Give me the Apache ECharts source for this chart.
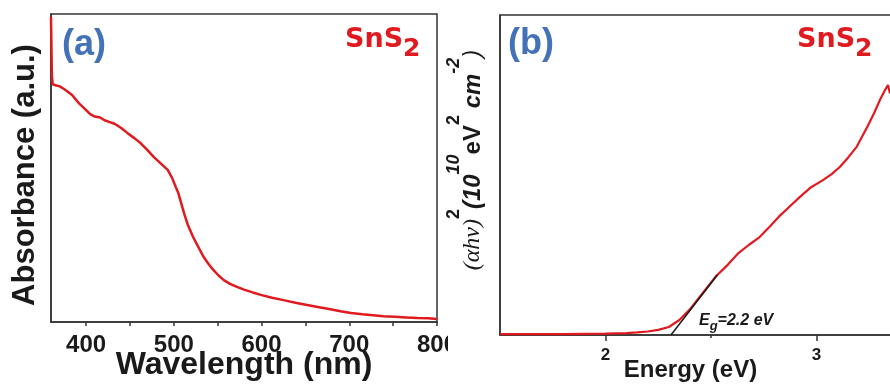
<!DOCTYPE html>
<html>
<head>
<meta charset="utf-8">
<script src="https://cdn.jsdelivr.net/npm/echarts@6/dist/echarts.min.js"></script>
<style>
  html, body { margin: 0; padding: 0; background: #fff; }
  #chart { width: 890px; height: 385px; }
</style>
</head>
<body>
<div id="chart"></div>
<script>
// (a) UV-vis absorbance spectrum of SnS2
const wavelengthNm = [360, 361, 362, 364, 366, 370, 374, 378, 384, 392, 400, 405, 410, 416, 421, 427, 433, 440, 447, 455, 462, 470, 477, 485, 493, 498, 502, 505, 508, 512, 516, 522, 528, 534, 540, 545, 551, 557, 564, 572, 580, 590, 599, 612, 625, 640, 652, 664, 677, 690, 702, 715, 727, 739, 752, 765, 778, 790, 800];
const absorbance = [0.99, 0.80, 0.772, 0.775, 0.768, 0.765, 0.758, 0.75, 0.737, 0.71, 0.688, 0.674, 0.667, 0.664, 0.655, 0.649, 0.643, 0.63, 0.614, 0.597, 0.581, 0.558, 0.536, 0.515, 0.494, 0.468, 0.44, 0.42, 0.39, 0.35, 0.315, 0.276, 0.243, 0.211, 0.187, 0.169, 0.151, 0.136, 0.124, 0.114, 0.105, 0.096, 0.088, 0.079, 0.071, 0.062, 0.055, 0.049, 0.042, 0.035, 0.029, 0.025, 0.022, 0.019, 0.017, 0.015, 0.013, 0.012, 0.01];

// (b) Tauc plot: (αhν)^2 in 10^10 eV^2 cm^-2 versus photon energy
const energyEv = [1.5, 1.6, 1.7, 1.8, 1.9, 2.0, 2.05, 2.1, 2.15, 2.2, 2.25, 2.3, 2.35, 2.4, 2.46, 2.52, 2.58, 2.63, 2.68, 2.73, 2.78, 2.82, 2.87, 2.92, 2.97, 3.03, 3.07, 3.11, 3.15, 3.19, 3.24, 3.27, 3.30, 3.32, 3.338, 3.348];
const taucValue = [0.03, 0.03, 0.03, 0.03, 0.035, 0.04, 0.05, 0.06, 0.08, 0.11, 0.16, 0.25, 0.47, 0.8, 1.31, 1.81, 2.2, 2.56, 2.82, 3.06, 3.4, 3.69, 4.0, 4.31, 4.6, 4.84, 5.02, 5.25, 5.55, 5.88, 6.5, 6.9, 7.34, 7.6, 7.81, 7.55];

// Linear extrapolation of the absorption edge
const edgeFitEnergy = [2.31, 2.53];
const edgeFitValue = [0, 1.875];

// Axis ticks and labels
const wavelengthTicks = [400, 450, 500, 550, 600, 650, 700, 750, 800];
const wavelengthLabels = [400, 500, 600, 700, 800];
const energyMajorTicks = [2, 3];
const energyMinorTicks = [2.5];

const RED = '#e01a1f';
const AXIS = '#333333';
const BLUE = '#4472b8';
const INK = '#1a1a1a';
const SANS = '"Liberation Sans", Arial, sans-serif';

const zip = (xs, ys) => xs.map((x, i) => [x, ys[i]]);

const chart = echarts.init(document.getElementById('chart'), null, { renderer: 'canvas' });

const hiddenY = (gridIndex, max, extra) => Object.assign({
  type: 'value', gridIndex, min: 0, max,
  axisLine: { show: true, lineStyle: { color: AXIS, width: 1.5 } },
  axisTick: { show: false }, axisLabel: { show: false }, splitLine: { show: false }
}, extra || {});

// chemical formula with a subscript 2
const formula = (x) => ({
  type: 'text', z: 100, x, y: 26,
  style: {
    text: '{m|SnS}{s|2}', align: 'left', verticalAlign: 'top',
    rich: {
      m: { fill: RED, font: 'bold 27px "DejaVu Sans", sans-serif', lineHeight: 27, verticalAlign: 'top' },
      s: { fill: RED, font: 'bold 25px "DejaVu Sans", sans-serif', lineHeight: 36, verticalAlign: 'bottom' }
    }
  }
});

chart.setOption({
  animation: false,
  backgroundColor: '#fff',
  grid: [
    { left: 51, top: 14, width: 386, height: 308, show: true, borderColor: AXIS, borderWidth: 1.5, backgroundColor: 'transparent', outerBoundsMode: 'none', containLabel: false },
    { left: 500, top: 15, width: 401, height: 320, show: true, borderColor: AXIS, borderWidth: 1.5, backgroundColor: 'transparent', outerBoundsMode: 'none', containLabel: false }
  ],
  xAxis: [
    {
      type: 'value', gridIndex: 0, position: 'bottom', min: 360, max: 800,
      axisLine: { show: true, lineStyle: { color: AXIS, width: 1.5 } },
      axisTick: { show: true, customValues: wavelengthTicks, length: 4, inside: false, lineStyle: { color: AXIS, width: 1.5 } },
      axisLabel: { customValues: wavelengthLabels, margin: 11, fontSize: 24, fontWeight: 'bold', color: INK, fontFamily: SANS },
      splitLine: { show: false },
      name: 'Wavelength (nm)', nameLocation: 'middle', nameGap: 27, nameMoveOverlap: false,
      nameTextStyle: { fontSize: 32, fontWeight: 'bold', color: INK, fontFamily: SANS }
    },
    {
      type: 'value', gridIndex: 1, position: 'bottom', min: 1.5, max: 3.4,
      axisLine: { show: true, lineStyle: { color: AXIS, width: 1.5 } },
      axisTick: { show: true, customValues: energyMajorTicks, length: 6, inside: false, lineStyle: { color: AXIS, width: 1.5 } },
      axisLabel: { customValues: energyMajorTicks, margin: 12, fontSize: 17, fontWeight: 'bold', color: INK, fontFamily: SANS },
      splitLine: { show: false },
      name: 'Energy (eV)', nameLocation: 'middle', nameGap: 23, nameMoveOverlap: false,
      nameTextStyle: { fontSize: 24, fontWeight: 'bold', color: INK, fontFamily: SANS, padding: [0, 20, 0, 0] }
    },
    {
      type: 'value', gridIndex: 1, position: 'bottom', min: 1.5, max: 3.4,
      axisLine: { show: false },
      axisTick: { show: true, customValues: energyMinorTicks, length: 3, inside: false, lineStyle: { color: AXIS, width: 1.5 } },
      axisLabel: { show: false },
      splitLine: { show: false }
    }
  ],
  yAxis: [
    hiddenY(0, 1, {
      name: 'Absorbance (a.u.)', nameLocation: 'middle', nameRotate: 90, nameGap: 10, nameMoveOverlap: false,
      nameTextStyle: { fontSize: 31, fontWeight: 'bold', color: INK, fontFamily: SANS, padding: [0, 14, 0, 0] }
    }),
    hiddenY(1, 10)
  ],
  series: [
    {
      type: 'line', xAxisIndex: 0, yAxisIndex: 0,
      data: zip(wavelengthNm, absorbance),
      showSymbol: false, smooth: false,
      lineStyle: { color: RED, width: 2.5 }
    },
    {
      type: 'line', xAxisIndex: 1, yAxisIndex: 1,
      data: zip(energyEv, taucValue),
      showSymbol: false, smooth: false,
      lineStyle: { color: RED, width: 2.2 }
    },
    {
      type: 'line', xAxisIndex: 1, yAxisIndex: 1,
      data: zip(edgeFitEnergy, edgeFitValue),
      showSymbol: false, z: 3,
      lineStyle: { color: INK, width: 1.5 }
    }
  ],
  graphic: {
    elements: [
      // trims the last wavelength label where panel (b) begins
      { type: 'rect', z: 100, shape: { x: 448, y: 326, width: 30, height: 36 }, style: { fill: '#fff' } },
      { type: 'text', z: 100, x: 62, y: 45,
        style: { text: '(a)', fill: BLUE, font: 'bold 36px ' + SANS, align: 'left', verticalAlign: 'middle' } },
      { type: 'text', z: 100, x: 508, y: 44,
        style: { text: '(b)', fill: BLUE, font: 'bold 36px ' + SANS, align: 'left', verticalAlign: 'middle' } },
      formula(345),
      formula(797),
      { type: 'text', z: 100, x: 699, y: 313,
        style: {
          text: '{e|E}{g|g}{t|=2.2 eV}', align: 'left', verticalAlign: 'top',
          rich: {
            e: { fill: INK, font: 'italic bold 16px ' + SANS, lineHeight: 18, verticalAlign: 'top' },
            g: { fill: INK, font: 'italic bold 13px ' + SANS, lineHeight: 20, verticalAlign: 'bottom' },
            t: { fill: INK, font: 'italic bold 16px ' + SANS, lineHeight: 18, verticalAlign: 'top' }
          }
        } },
      { type: 'text', z: 100, x: 465, y: 160, rotation: Math.PI / 2,
        style: {
          text: '{a|(αhν)}{sb|2}{b|(10}{si|10}{c|eV}{sb|2}{d| cm}{si|-2}{e|)}',
          align: 'center', verticalAlign: 'middle',
          rich: {
            a: { fill: INK, font: 'italic 24px "Liberation Serif", serif', lineHeight: 24, verticalAlign: 'bottom' },
            b: { fill: INK, font: 'italic bold 24px ' + SANS, lineHeight: 24, verticalAlign: 'bottom' },
            c: { fill: INK, font: 'bold 24px ' + SANS, lineHeight: 24, verticalAlign: 'bottom' },
            d: { fill: INK, font: 'italic bold 24px ' + SANS, lineHeight: 24, verticalAlign: 'bottom' },
            e: { fill: INK, font: 'italic 24px ' + SANS, lineHeight: 24, verticalAlign: 'bottom' },
            sb: { fill: INK, font: 'bold 18px ' + SANS, lineHeight: 40, verticalAlign: 'top' },
            si: { fill: INK, font: 'italic bold 18px ' + SANS, lineHeight: 40, verticalAlign: 'top' }
          }
        } }
    ]
  }
});
</script>
</body>
</html>
